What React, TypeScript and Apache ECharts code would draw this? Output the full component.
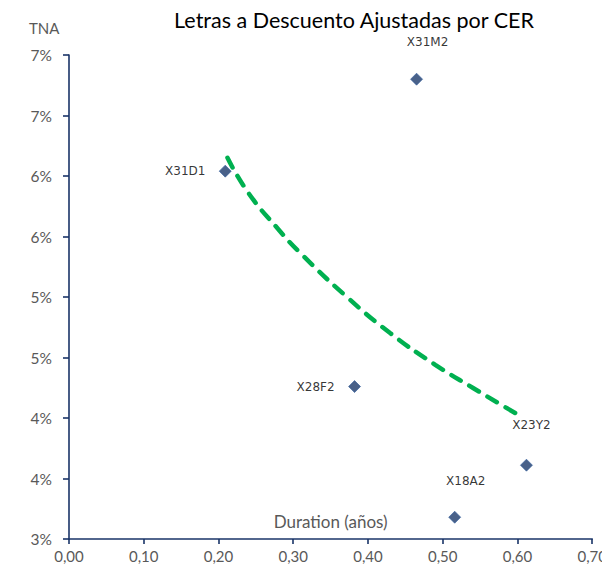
import React, { useEffect, useRef } from "react";
import * as echarts from "echarts";

// ---- data ----
const bondNames = ["X31M2", "X31D1", "X28F2", "X23Y2", "X18A2"];
const durations = [0.465, 0.209, 0.382, 0.612, 0.516];
const tnaValues = [6.8, 6.04, 4.26, 3.61, 3.18];

const trendDurations = [0.212, 0.24, 0.28, 0.31, 0.37, 0.43, 0.49, 0.54, 0.6];
const trendTna = [6.15, 5.86, 5.56, 5.36, 5.01, 4.7, 4.44, 4.25, 4.03];

const yTickLabels = ["3%", "4%", "4%", "5%", "5%", "6%", "6%", "7%", "7%"];
const xTickLabels = ["0,00", "0,10", "0,20", "0,30", "0,40", "0,50", "0,60", "0,70"];

// label placement (pixels relative to each marker)
const labelOffsets: Record<string, [number, number]> = {
  X31M2: [11, -37],
  X31D1: [-40, 0],
  X28F2: [-39, 0],
  X23Y2: [5, -40],
  X18A2: [11, -36],
};

const AXIS_COLOR = "#1a3468";
const TEXT_GRAY = "#595959";
const FONT = "Lato, 'Open Sans', sans-serif";

export default function App() {
  const ref = useRef<HTMLDivElement>(null);

  useEffect(() => {
    if (!ref.current) return;
    const chart = echarts.init(ref.current, undefined, { renderer: "svg" });

    const scatterData = bondNames.map((name, i) => ({
      name,
      value: [durations[i], tnaValues[i]],
      label: { offset: labelOffsets[name] },
    }));

    chart.setOption({
      animation: false,
      backgroundColor: "#ffffff",
      title: {
        text: "Letras a Descuento Ajustadas por CER",
        left: 349,
        top: 3,
        textAlign: "center",
        textStyle: { fontFamily: FONT, fontSize: 21.5, fontWeight: "normal", color: "#000000", lineHeight: 24 },
      },
      graphic: [
        {
          type: "text",
          left: 29,
          top: 20,
          style: { text: "TNA", fontFamily: FONT, fontSize: 15, fill: TEXT_GRAY },
        },
      ],
      grid: { left: 69, right: 13, top: 55, bottom: 36, containLabel: false },
      xAxis: {
        type: "value",
        min: 0,
        max: 0.7,
        interval: 0.1,
        name: "Duration (años)",
        nameLocation: "middle",
        nameGap: -18,
        nameTextStyle: { fontFamily: FONT, fontSize: 17, color: TEXT_GRAY, verticalAlign: "middle" },
        axisLine: { show: true, onZero: false, lineStyle: { color: AXIS_COLOR, width: 1.6 } },
        axisTick: { show: true, inside: false, length: 5, lineStyle: { color: AXIS_COLOR, width: 1.6 } },
        axisLabel: {
          margin: 9,
          fontFamily: FONT,
          fontSize: 15,
          color: TEXT_GRAY,
          formatter: (v: number) => xTickLabels[Math.round(v * 10)] ?? "",
        },
        splitLine: { show: false },
      },
      yAxis: {
        type: "value",
        min: 3,
        max: 7,
        interval: 0.5,
        axisLine: { show: true, onZero: false, lineStyle: { color: AXIS_COLOR, width: 1.6 } },
        axisTick: { show: true, inside: false, length: 6, lineStyle: { color: AXIS_COLOR, width: 1.6 } },
        axisLabel: {
          margin: 17,
          fontFamily: FONT,
          fontSize: 15.5,
          color: TEXT_GRAY,
          formatter: (v: number) => yTickLabels[Math.round((v - 3) * 2)] ?? "",
        },
        splitLine: { show: false },
      },
      series: [
        {
          type: "line",
          data: trendDurations.map((d, i) => [d, trendTna[i]]),
          smooth: true,
          showSymbol: false,
          symbol: "none",
          silent: true,
          z: 1,
          lineStyle: { color: "#00b050", width: 4.5, type: [11, 10], cap: "round" },
        },
        {
          type: "scatter",
          data: scatterData,
          symbol: "diamond",
          symbolSize: 12,
          z: 3,
          itemStyle: { color: "#1b3a6b", borderColor: "#335f9e", borderWidth: 0.8 },
          label: {
            show: true,
            position: "inside",
            formatter: "{b}",
            fontFamily: "'DejaVu Sans', sans-serif",
            fontSize: 12,
            lineHeight: 13,
            color: "#000000",
          },
        },
      ],
    });

    return () => chart.dispose();
  }, []);

  return <div ref={ref} style={{ width: 610, height: 575, margin: -8 }} />;
}
